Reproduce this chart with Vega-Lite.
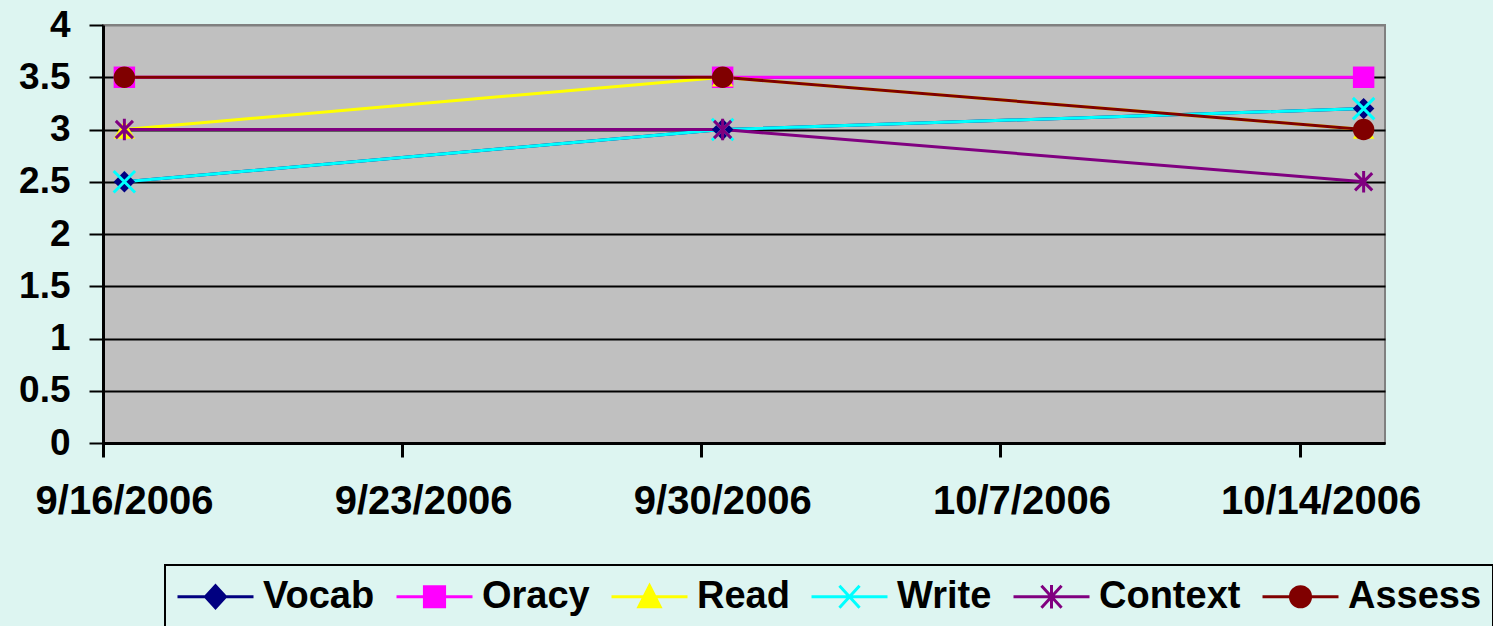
{
  "$schema": "https://vega.github.io/schema/vega-lite/v6.json",
  "width": 1282,
  "height": 418,
  "autosize": {"type": "none"},
  "padding": {"left": 103, "top": 25, "right": 108, "bottom": 183},
  "background": "#DDF5F1",
  "config": {
    "view": {"fill": "#C0C0C0", "stroke": "#808080", "strokeWidth": 2},
    "font": "Liberation Sans"
  },
  "data": {
    "values": [
      {"series": "Vocab", "date": "2006-09-16T12:00:00", "value": 2.5},
      {"series": "Vocab", "date": "2006-09-30T12:00:00", "value": 3},
      {"series": "Vocab", "date": "2006-10-15T12:00:00", "value": 3.2},
      {"series": "Oracy", "date": "2006-09-16T12:00:00", "value": 3.5},
      {"series": "Oracy", "date": "2006-09-30T12:00:00", "value": 3.5},
      {"series": "Oracy", "date": "2006-10-15T12:00:00", "value": 3.5},
      {"series": "Read", "date": "2006-09-16T12:00:00", "value": 3},
      {"series": "Read", "date": "2006-09-30T12:00:00", "value": 3.5},
      {"series": "Read", "date": "2006-10-15T12:00:00", "value": 3},
      {"series": "Write", "date": "2006-09-16T12:00:00", "value": 2.5},
      {"series": "Write", "date": "2006-09-30T12:00:00", "value": 3},
      {"series": "Write", "date": "2006-10-15T12:00:00", "value": 3.2},
      {"series": "Context", "date": "2006-09-16T12:00:00", "value": 3},
      {"series": "Context", "date": "2006-09-30T12:00:00", "value": 3},
      {"series": "Context", "date": "2006-10-15T12:00:00", "value": 2.5},
      {"series": "Assess", "date": "2006-09-16T12:00:00", "value": 3.5},
      {"series": "Assess", "date": "2006-09-30T12:00:00", "value": 3.5},
      {"series": "Assess", "date": "2006-10-15T12:00:00", "value": 3}
    ]
  },
  "encoding": {
    "x": {
      "field": "date",
      "type": "temporal",
      "scale": {"domain": [{"year": 2006, "month": 9, "date": 16}, {"year": 2006, "month": 10, "date": 16}]},
      "axis": {
        "title": null,
        "grid": false,
        "values": [
          {"year": 2006, "month": 9, "date": 16},
          {"year": 2006, "month": 9, "date": 23},
          {"year": 2006, "month": 9, "date": 30},
          {"year": 2006, "month": 10, "date": 7},
          {"year": 2006, "month": 10, "date": 14}
        ],
        "format": "%-m/%-d/%Y",
        "labelFontSize": 40,
        "labelFontWeight": "bold",
        "labelColor": "black",
        "labelPadding": 24,
        "labelOffset": 21,
        "labelFlush": false,
        "labelOverlap": false,
        "labelLimit": 400,
        "domainColor": "black",
        "domainWidth": 3,
        "tickColor": "black",
        "tickWidth": 3,
        "tickSize": 14
      }
    },
    "y": {
      "field": "value",
      "type": "quantitative",
      "scale": {"domain": [0, 4]},
      "axis": {
        "title": null,
        "values": [0, 0.5, 1, 1.5, 2, 2.5, 3, 3.5, 4],
        "format": "~g",
        "labelFontSize": 37,
        "labelFontWeight": "bold",
        "labelColor": "black",
        "labelPadding": 19,
        "domainColor": "black",
        "domainWidth": 3,
        "tickColor": "black",
        "tickWidth": 2,
        "tickSize": 14,
        "grid": true,
        "gridColor": {"condition": {"test": "datum.value === 4", "value": "#808080"}, "value": "black"},
        "gridWidth": 2,
        "gridOpacity": 1
      }
    },
    "color": {
      "field": "series",
      "type": "nominal",
      "scale": {
        "domain": ["Vocab", "Oracy", "Read", "Write", "Context", "Assess"],
        "range": ["#000080", "#FF00FF", "#FFFF00", "#00FFFF", "#800080", "#800000"]
      },
      "legend": {
        "title": null,
        "orient": "none",
        "legendX": 62,
        "legendY": 540,
        "direction": "horizontal",
        "columns": 6,
        "strokeColor": "black",
        "padding": 11,
        "columnPadding": 15,
        "labelFontSize": 38,
        "labelFontWeight": "bold",
        "labelColor": "black",
        "labelOffset": 46,
        "labelLimit": 0,
        "symbolSize": 1444,
        "symbolStrokeWidth": 3,
        "encode": {
          "legend": {
            "update": {
              "strokeWidth": {"value": 2}
            }
          },
          "symbols": {
            "update": {
              "shape": {"signal": "datum.value === 'Vocab' ? 'M-1,0H3M1,-0.58L1.53,0L1,0.58L0.47,0Z' : datum.value === 'Oracy' ? 'M-1,0H3M0.47,-0.53H1.53V0.53H0.47Z' : datum.value === 'Read' ? 'M-1,0H3M1,-0.58L1.56,0.53H0.44Z' : datum.value === 'Write' ? 'M-1,0H3M0.47,-0.58L1.53,0.58M0.47,0.58L1.53,-0.58' : datum.value === 'Context' ? 'M-1,0H3M0.47,-0.58L1.53,0.58M0.47,0.58L1.53,-0.58M1,-0.62V0.62' : 'M-1,0H3M1.53,0A0.53,0.53,0,1,1,0.47,0A0.53,0.53,0,1,1,1.53,0Z'"},
              "fill": {"signal": "scale('color', datum.value)"},
              "stroke": {"signal": "scale('color', datum.value)"},
              "opacity": {"value": 1},
              "fillOpacity": {"value": 1}
            }
          }
        }
      }
    }
  },
  "layer": [
    {"mark": {"type": "line", "strokeWidth": 3}},
    {
      "transform": [{"filter": "datum.series === 'Vocab'"}],
      "mark": {"type": "point", "shape": "diamond", "filled": true, "size": 460, "opacity": 1}
    },
    {
      "transform": [{"filter": "datum.series === 'Oracy'"}],
      "mark": {"type": "point", "shape": "square", "filled": true, "size": 460, "opacity": 1}
    },
    {
      "transform": [{"filter": "datum.series === 'Read'"}],
      "mark": {"type": "point", "shape": "triangle-up", "filled": true, "size": 460, "opacity": 1}
    },
    {
      "transform": [{"filter": "datum.series === 'Write'"}],
      "mark": {"type": "point", "shape": "M-1,-1L1,1M-1,1L1,-1", "filled": false, "size": 460, "opacity": 1, "strokeWidth": 3}
    },
    {
      "transform": [{"filter": "datum.series === 'Context'"}],
      "mark": {"type": "point", "shape": "M-0.8,-0.8L0.8,0.8M-0.8,0.8L0.8,-0.8M0,-1V1", "filled": false, "size": 460, "opacity": 1, "strokeWidth": 3}
    },
    {
      "transform": [{"filter": "datum.series === 'Assess'"}],
      "mark": {"type": "point", "shape": "circle", "filled": true, "size": 460, "opacity": 1}
    }
  ]
}
